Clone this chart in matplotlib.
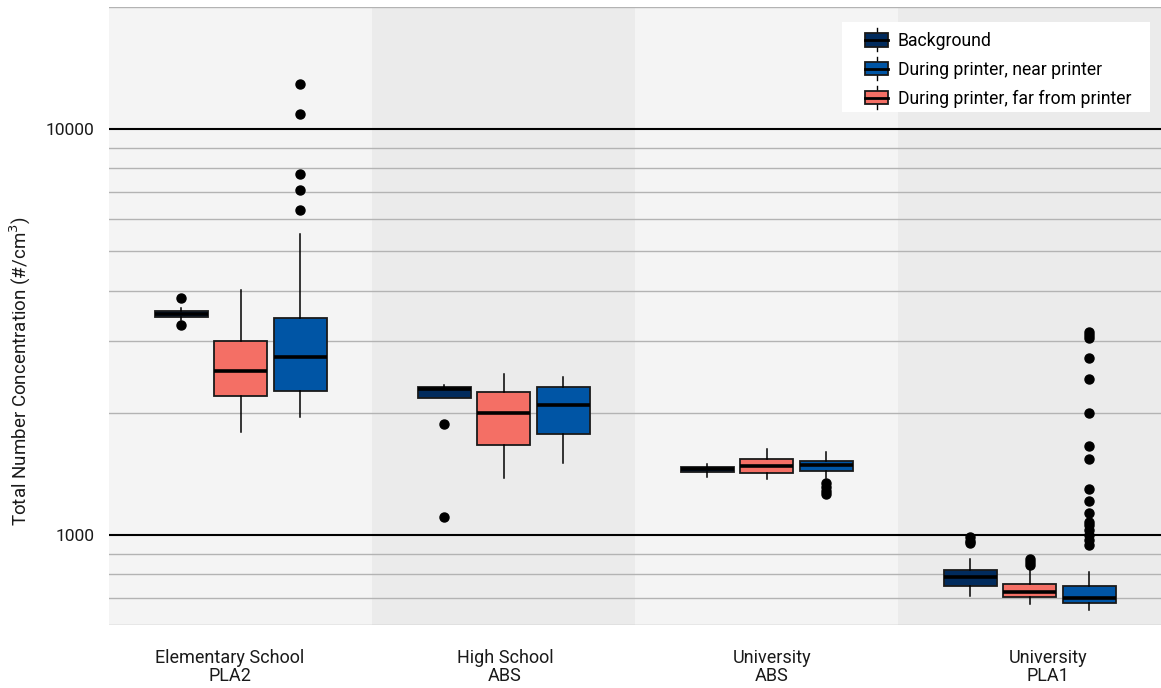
import matplotlib
matplotlib.use("Agg")
import matplotlib.pyplot as plt
from matplotlib.legend_handler import HandlerBase
from matplotlib.patches import Patch, Rectangle
from matplotlib.lines import Line2D
from matplotlib.ticker import LogLocator, NullFormatter, FixedLocator, FixedFormatter

plt.rcParams['font.family'] = ['Roboto', 'DejaVu Sans']

# sites (x tick labels)
sites = ["Elementary School\nPLA2", "High School\nABS", "University\nABS", "University\nPLA1"]
label_pos = [-0.04, 1.005, 2.02, 3.07]

# series, in order drawn inside each group
series = ["Background", "During printer, far from printer", "During printer, near printer"]
colors = {"Background": "#012b5d",
          "During printer, near printer": "#0055a5",
          "During printer, far from printer": "#f46f65"}

# box stats per site: (whislo, q1, med, q3, whishi, fliers)
background = [
    (3385, 3443, 3500, 3563, 3620, [3834, 3290]),
    (2171, 2171, 2289, 2319, 2340, [1877, 1107]),
    (1392, 1432, 1454, 1473, 1493, []),
    (709, 750, 787, 820, 873, [989, 967, 956]),
]
far = [
    (1794, 2199, 2535, 3005, 4012, []),
    (1380, 1664, 1994, 2246, 2488, []),
    (1372, 1423, 1479, 1536, 1626, []),
    (675, 705, 725, 756, 828, [873, 858, 844]),
]
near = [
    (1953, 2263, 2745, 3423, 5513, [12900, 10890, 7748, 7075, 6317]),
    (1502, 1773, 2090, 2319, 2446, []),
    (1382, 1438, 1487, 1524, 1601, [1343, 1313, 1283, 1262]),
    (654, 679, 701, 749, 809, [3167, 3109, 3062, 2724, 2427, 2001, 1660, 1541,
                               1296, 1213, 1135, 1078, 1058, 1029, 1000, 972, 945]),
]
data = {"Background": background,
        "During printer, far from printer": far,
        "During printer, near printer": near}
offsets = [-0.225, 0.0, 0.228]


class BoxHandler(HandlerBase):
    # small boxplot glyph, drawn in the right part of the handle area
    def create_artists(self, legend, orig_handle, xdescent, ydescent,
                       width, height, fontsize, trans):
        bw = width * 0.6
        cx = width - bw / 2 - xdescent
        bh = height * 0.95
        y0 = -ydescent + (height - bh) / 2
        whisk = Line2D([cx, cx], [y0 - 0.35 * bh, y0 + 1.35 * bh], color="black", lw=1)
        rect = Rectangle((cx - bw / 2, y0), bw, bh, facecolor=orig_handle.get_facecolor(),
                         edgecolor="#1a1a1a", lw=1.3)
        med = Line2D([cx - bw / 2, cx + bw / 2], [y0 + bh / 2, y0 + bh / 2], color="black", lw=2)
        for a in (whisk, rect, med):
            a.set_transform(trans)
        return [whisk, rect, med]


fig = plt.figure(figsize=(11.61, 6.88), dpi=100)
ax = fig.add_axes([109 / 1161, 63 / 688, 1 - 109 / 1161, 618 / 688])

for i in range(len(sites)):
    ax.axvspan(i - 0.5, i + 0.5, color="#f4f4f4" if i % 2 == 0 else "#ebebeb", zorder=0, lw=0)

for s, off in zip(series, offsets):
    stats = []
    for row in data[s]:
        lo, q1, med, q3, hi, fl = row
        stats.append(dict(whislo=lo, q1=q1, med=med, q3=q3, whishi=hi, fliers=fl))
    pos = [i + off for i in range(len(sites))]
    ax.bxp(stats, positions=pos, widths=0.2, patch_artist=True, showcaps=False,
           boxprops=dict(facecolor=colors[s], edgecolor="#1a1a1a", lw=1.3),
           medianprops=dict(color="black", lw=2.6),
           whiskerprops=dict(color="black", lw=1.1),
           flierprops=dict(marker="o", markerfacecolor="black", markeredgecolor="black",
                           markersize=6.5), zorder=3)

ax.set_yscale("log")
ax.set_ylim(600, 20000)
ax.set_xlim(-0.5, 3.5)
ax.yaxis.set_major_locator(FixedLocator([1000, 10000]))
ax.yaxis.set_major_formatter(FixedFormatter(["1000", "10000"]))
ax.yaxis.set_minor_locator(LogLocator(base=10, subs=range(2, 10)))
ax.yaxis.set_minor_formatter(NullFormatter())
ax.set_axisbelow(True)
ax.grid(which="major", axis="y", color="black", lw=1.5)
ax.grid(which="minor", axis="y", color="#b3b3b3", lw=1)
ax.grid(False, axis="x")

ax.set_xticks(label_pos)
ax.set_xticklabels(sites, fontsize=13, color="#1a1a1a", linespacing=1.05)
ax.tick_params(axis="x", length=0, pad=17)
ax.tick_params(axis="y", which="both", length=0, pad=10.5, labelsize=12.5, labelcolor="#1a1a1a")
for sp in ax.spines.values():
    sp.set_visible(False)

ax.set_ylabel("Total Number Concentration (#/cm$^3$)", fontsize=13.5, color="#1a1a1a")
ax.yaxis.set_label_coords(-0.072, 0.41)

# white legend panel
ax.add_patch(Rectangle((0.6968, 0.8301), 0.2928, 0.1456, transform=ax.transAxes,
                       facecolor="white", edgecolor="none", zorder=4))

handles = [Patch(facecolor=colors["Background"]),
           Patch(facecolor=colors["During printer, near printer"]),
           Patch(facecolor=colors["During printer, far from printer"])]
labels = ["Background", "During printer, near printer", "During printer, far from printer"]
leg = ax.legend(handles, labels, handler_map={Patch: BoxHandler()}, loc="upper left",
                bbox_to_anchor=(0.6968, 0.9725), borderaxespad=0,
                fontsize=12.7, frameon=False, handlelength=2.16,
                handleheight=0.85, labelspacing=0.62, handletextpad=0.55, borderpad=0.45)
leg.set_zorder(5)

fig.savefig("out.png", dpi=100)
